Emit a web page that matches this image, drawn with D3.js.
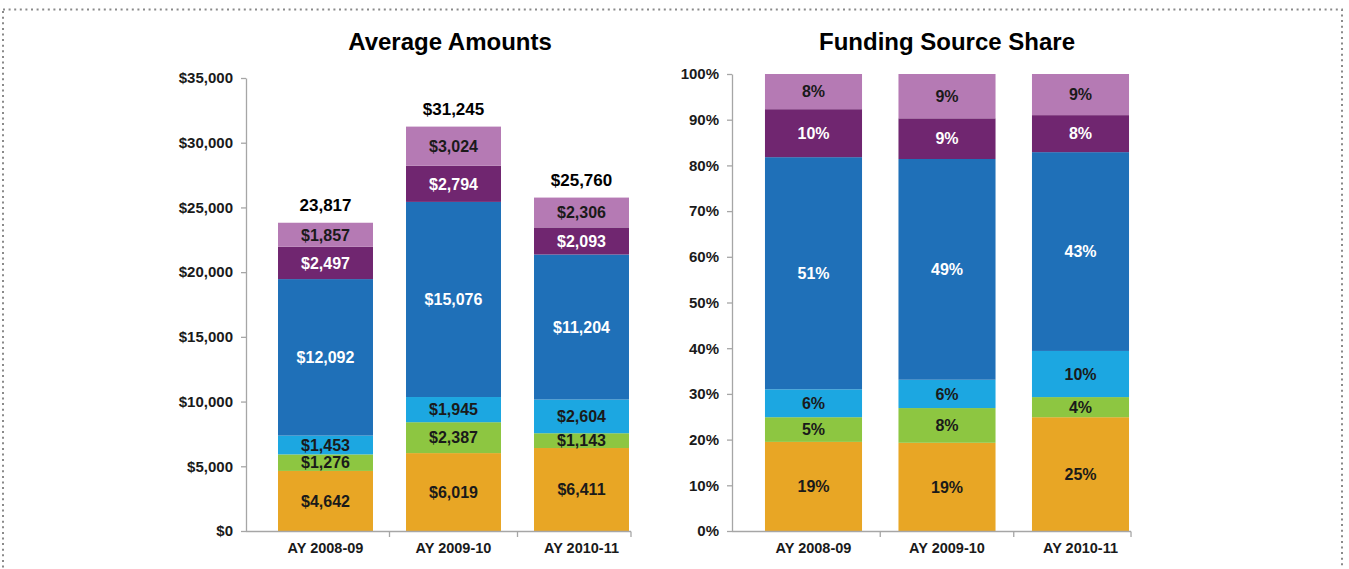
<!DOCTYPE html>
<html>
<head>
<meta charset="utf-8">
<script src="https://cdn.jsdelivr.net/npm/d3@7"></script>
<style>
  body { margin: 0; background: #fff; }
  svg text { font-family: "Liberation Sans", Arial, sans-serif; font-weight: bold; }
</style>
</head>
<body>
<script>
var W = 1349, H = 569;

// categories and series
var categories = ["AY 2008-09", "AY 2009-10", "AY 2010-11"];
var keys = ["s1", "s2", "s3", "s4", "s5", "s6"];
var colors = ["#E8A625", "#8DC641", "#1CA7E1", "#1F70B8", "#702670", "#B57AB4"];
var labelColors = ["#1a1a1a", "#1a1a1a", "#1a1a1a", "#fff", "#fff", "#1a1a1a"];

// average amounts ($), bottom to top
var amt1 = [4642, 6019, 6411];
var amt2 = [1276, 2387, 1143];
var amt3 = [1453, 1945, 2604];
var amt4 = [12092, 15076, 11204];
var amt5 = [2497, 2794, 2093];
var amt6 = [1857, 3024, 2306];
var totals = [23817, 31245, 25760];
var totalLabels = ["23,817", "$31,245", "$25,760"];

// funding source share (%), bar heights
var shr1 = [19.5, 19.3, 24.9];
var shr2 = [5.4, 7.6, 4.4];
var shr3 = [6.1, 6.2, 10.1];
var shr4 = [50.8, 48.3, 43.5];
var shr5 = [10.5, 8.9, 8.1];
var shr6 = [7.7, 9.7, 9.0];
// share labels printed on the bars
var lab1 = ["19%", "19%", "25%"];
var lab2 = ["5%", "8%", "4%"];
var lab3 = ["6%", "6%", "10%"];
var lab4 = ["51%", "49%", "43%"];
var lab5 = ["10%", "9%", "8%"];
var lab6 = ["8%", "9%", "9%"];

var amtTicks = [0, 5000, 10000, 15000, 20000, 25000, 30000, 35000];
var shrTicks = [0, 10, 20, 30, 40, 50, 60, 70, 80, 90, 100];

var svg = d3.select("body").append("svg")
    .attr("width", W)
    .attr("height", H);

// dotted frame
svg.append("rect")
    .attr("x", 3).attr("y", 9.5)
    .attr("width", 1339).attr("height", 620)
    .attr("fill", "none")
    .attr("stroke", "#8a8a8a")
    .attr("stroke-width", 2)
    .attr("stroke-dasharray", "2,3.6");

function rows(arrs) {
  return categories.map(function (c, i) {
    var r = { cat: c };
    keys.forEach(function (k, j) { r[k] = arrs[j][i]; });
    return r;
  });
}

function drawChart(opt) {
  var g = svg.append("g");
  var x = d3.scaleBand().domain(categories).range(opt.xRange)
      .paddingInner(opt.pad).paddingOuter(opt.pad / 2);
  var y = d3.scaleLinear().domain([0, opt.max]).range([531, opt.yTop]);

  g.append("text")
      .attr("x", opt.titleX).attr("y", 50)
      .attr("text-anchor", "middle")
      .attr("font-size", 24)
      .attr("fill", "#000")
      .text(opt.title);

  // y axis
  var ya = g.append("g")
      .attr("transform", "translate(" + opt.axisX + ",0)")
      .call(d3.axisLeft(y).tickValues(opt.ticks).tickFormat(opt.fmt)
        .tickSize(5).tickSizeOuter(0).tickPadding(8));
  ya.select(".domain").attr("stroke", "#a6a6a6").attr("stroke-width", 1.3);
  ya.selectAll(".tick line").attr("stroke", "#a6a6a6").attr("stroke-width", 1.3);
  ya.selectAll(".tick text").attr("font-size", 15).attr("fill", "#1a1a1a")
      .attr("font-family", "'Liberation Sans', Arial, sans-serif");

  var stack = d3.stack().keys(keys)(rows(opt.values));

  var layer = g.selectAll(".layer").data(stack).enter().append("g")
      .attr("fill", function (d, i) { return colors[i]; });

  layer.selectAll("rect").data(function (d) { return d; }).enter().append("rect")
      .attr("x", function (d) { return x(d.data.cat); })
      .attr("y", function (d) { return y(d[1]); })
      .attr("width", x.bandwidth())
      .attr("height", function (d) { return y(d[0]) - y(d[1]); });

  stack.forEach(function (s, j) {
    g.selectAll(".lbl" + j).data(s).enter().append("text")
        .attr("x", function (d) { return x(d.data.cat) + x.bandwidth() / 2; })
        .attr("y", function (d) { return (y(d[0]) + y(d[1])) / 2 + 5.8; })
        .attr("text-anchor", "middle")
        .attr("font-size", 16)
        .attr("fill", labelColors[j])
        .text(function (d, i) { return opt.label(j, i); });
  });

  // x axis
  var last = categories[categories.length - 1];
  var xEnd = x(last) + x.bandwidth() + 2;
  g.append("line")
      .attr("x1", opt.axisX).attr("x2", xEnd)
      .attr("y1", 531.5).attr("y2", 531.5)
      .attr("stroke", "#a6a6a6").attr("stroke-width", 1.3);
  var tx = categories.slice(0, -1).map(function (c) {
    return x(c) + x.bandwidth() + (x.step() - x.bandwidth()) / 2;
  }).concat([xEnd]);
  g.selectAll(".xt").data(tx).enter().append("line")
      .attr("x1", function (d) { return d; }).attr("x2", function (d) { return d; })
      .attr("y1", 531.5).attr("y2", 537)
      .attr("stroke", "#a6a6a6").attr("stroke-width", 1.3);
  g.selectAll(".xl").data(categories).enter().append("text")
      .attr("x", function (d) { return x(d) + x.bandwidth() / 2; })
      .attr("y", 553)
      .attr("text-anchor", "middle")
      .attr("font-size", 14.5)
      .attr("fill", "#1a1a1a")
      .text(function (d) { return d; });

  return { x: x, y: y, g: g };
}

var left = drawChart({
  title: "Average Amounts", titleX: 450,
  xRange: [261.5, 645.5], pad: 0.258,
  axisX: 246, yTop: 78, max: 35000, ticks: amtTicks,
  fmt: function (d) { return "$" + d3.format(",")(d); },
  values: [amt1, amt2, amt3, amt4, amt5, amt6],
  label: function (j, i) {
    var a = [amt1, amt2, amt3, amt4, amt5, amt6][j][i];
    return "$" + d3.format(",")(a);
  }
});

left.g.selectAll(".tot").data(categories).enter().append("text")
    .attr("x", function (d) { return left.x(d) + left.x.bandwidth() / 2; })
    .attr("y", function (d, i) { return left.y(totals[i]) - 12; })
    .attr("text-anchor", "middle")
    .attr("font-size", 17)
    .attr("fill", "#000")
    .text(function (d, i) { return totalLabels[i]; });

drawChart({
  title: "Funding Source Share", titleX: 947,
  xRange: [746.75, 1147.25], pad: 0.273,
  axisX: 732, yTop: 74, max: 100, ticks: shrTicks,
  fmt: function (d) { return d + "%"; },
  values: [shr1, shr2, shr3, shr4, shr5, shr6],
  label: function (j, i) { return [lab1, lab2, lab3, lab4, lab5, lab6][j][i]; }
});
</script>
</body>
</html>
